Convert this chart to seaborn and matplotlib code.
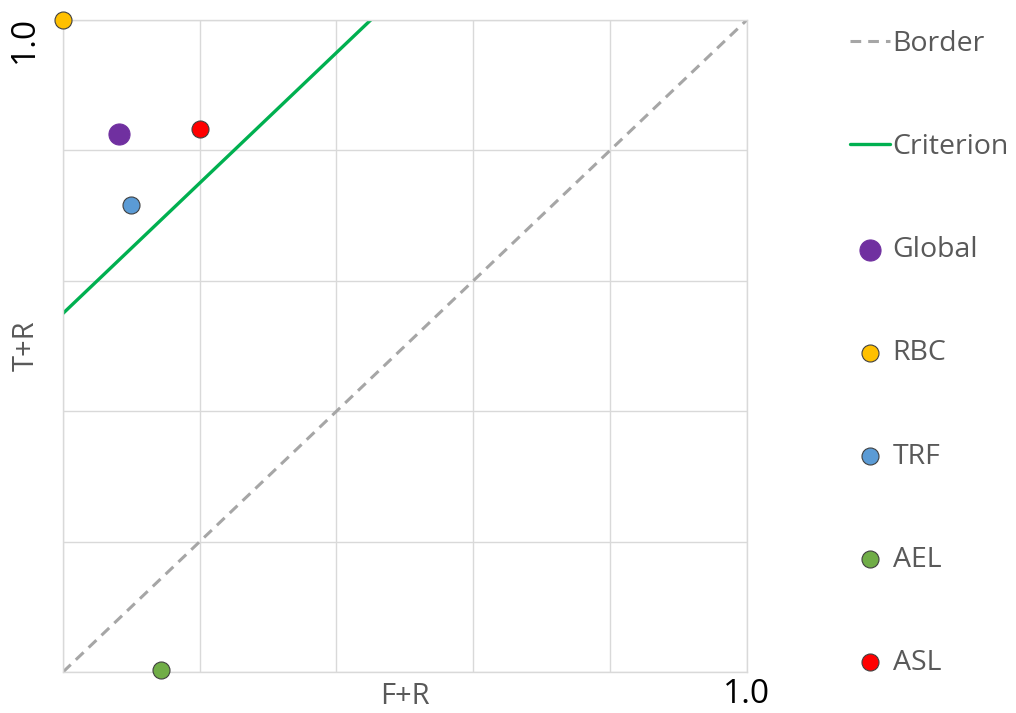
import matplotlib
matplotlib.use("Agg")
import matplotlib.pyplot as plt
import matplotlib.transforms as mtrans
import seaborn as sns
import numpy as np

# data
names = ["Global", "RBC", "TRF", "AEL", "ASL"]
fr = [0.082, 0.0, 0.10, 0.143, 0.20]
tr = [0.825, 1.0, 0.716, 0.003, 0.833]
colors = ["#7030A0", "#FFC000", "#5B9BD5", "#70AD47", "#FF0000"]

border_x = [0.0, 1.0]
border_y = [0.0, 1.0]
crit_x = [0.0, 0.45]
crit_y = [0.55, 1.0]

grid_ticks = [0.0, 0.2, 0.4, 0.6, 0.8, 1.0]
tick_labels = ["", "", "", "", "", "1.0"]

sns.set_theme(style="whitegrid")
plt.rcParams["font.family"] = ["Open Sans", "DejaVu Sans"]

fig = plt.figure(figsize=(10.16, 7.13), dpi=100)
ax = fig.add_axes([0.062, 0.0575, 0.673, 0.9144])

sns.lineplot(x=border_x, y=border_y, ax=ax, color="#A6A6A6", lw=2.2,
             label="Border").lines[-1].set_dashes((3.5, 2.3))
sns.lineplot(x=crit_x, y=crit_y, ax=ax, color="#00B050", lw=2.4, label="Criterion")

for i, name in enumerate(names):
    big = name == "Global"
    sns.scatterplot(x=[fr[i]], y=[tr[i]], ax=ax, color=colors[i],
                    s=230 if big else 150,
                    edgecolor=colors[i] if big else "#404040",
                    linewidth=0.8, label=name, clip_on=False, zorder=5)

ax.set_xlim(0, 1)
ax.set_ylim(0, 1)
ax.set_xticks(grid_ticks)
ax.set_yticks(grid_ticks)
ax.set_xticklabels(tick_labels, fontsize=24, color="black")
ax.set_yticklabels(tick_labels, fontsize=24, color="black", rotation=90, va="top")
ax.tick_params(axis="x", length=0, pad=4)
ax.tick_params(axis="y", length=0, pad=16)
shift = mtrans.ScaledTranslation(0, 4 / 100, fig.dpi_scale_trans)
for lab in ax.get_yticklabels():
    lab.set_transform(lab.get_transform() + shift)
ax.grid(True, color="#D9D9D9", lw=1)
for sp in ax.spines.values():
    sp.set_color("#D9D9D9")
    sp.set_linewidth(1)

ax.set_xlabel("F+R", fontsize=21, color="#595959")
ax.set_ylabel("T+R", fontsize=21, color="#595959")
ax.xaxis.label.set_va("center")
ax.yaxis.label.set_va("center")
ax.xaxis.set_label_coords(0.5, -0.038)
ax.yaxis.set_label_coords(-0.054, 0.5)

handles, labels = ax.get_legend_handles_labels()
ax.legend_.remove()
fig.legend(handles, labels, loc="upper left", bbox_to_anchor=(0.8366, 0.958),
           frameon=False, fontsize=20.5, labelcolor="#595959",
           handlelength=1.4, handletextpad=0.1, labelspacing=2.64,
           borderaxespad=0, borderpad=0)

fig.savefig("out.png", dpi=100)
